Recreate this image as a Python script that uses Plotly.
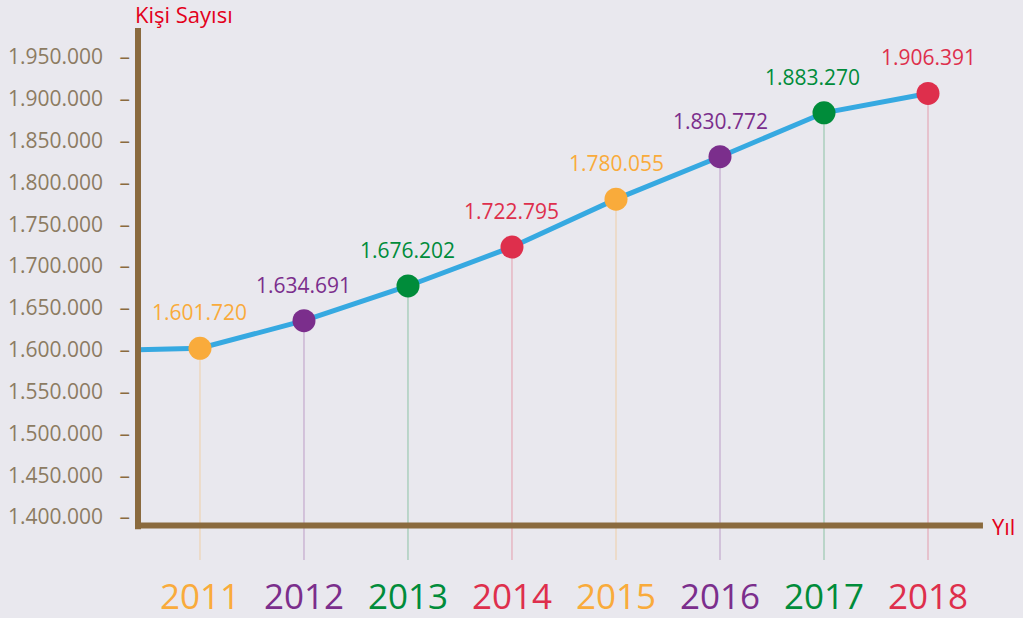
import plotly.graph_objects as go

# ---- data ----
years = [2011, 2012, 2013, 2014, 2015, 2016, 2017, 2018]
values = [1601720, 1634691, 1676202, 1722795, 1780055, 1830772, 1883270, 1906391]
lead_in_value = 1600000
point_colors = ["#f9ab3b", "#7b2e8c", "#008c3a", "#de2f4c",
                "#f9ab3b", "#7b2e8c", "#008c3a", "#de2f4c"]
drop_colors = ["rgba(249,171,59,0.4)", "rgba(123,46,140,0.4)", "rgba(0,140,58,0.4)",
               "rgba(222,47,76,0.4)", "rgba(249,171,59,0.4)", "rgba(123,46,140,0.4)",
               "rgba(0,140,58,0.4)", "rgba(222,47,76,0.4)"]
y_ticks = [1400000 + 50000 * i for i in range(12)]
y_title = "Kişi Sayısı"
x_title = "Yıl"

def fmt(v):
    return f"{v:,}".replace(",", ".")

X_RANGE = [2010.404, 2018.548]
Y_RANGE = [1348589, 1984672]

FONT = "Open Sans"
AXIS_COL = "#8a6a3e"
TICK_COL = "#8c7b62"
BG = "#e9e8ee"

fig = go.Figure()

# drop lines
for yr, v, c in zip(years, values, drop_colors):
    fig.add_trace(go.Scatter(x=[yr, yr], y=[v, Y_RANGE[0]], mode="lines",
                             line=dict(color=c, width=1), hoverinfo="skip",
                             showlegend=False))

# main line
fig.add_trace(go.Scatter(x=[X_RANGE[0]] + years, y=[lead_in_value] + values,
                         mode="lines", line=dict(color="#36a9e1", width=5),
                         showlegend=False, hoverinfo="skip"))
# markers
fig.add_trace(go.Scatter(x=years, y=values, mode="markers",
                         marker=dict(size=23, color=point_colors, line=dict(width=0)),
                         showlegend=False))

annotations = []
label_xshift = [0, 0, 0, 0, 0, 0, -12, 0]
for yr, v, c, xs in zip(years, values, point_colors, label_xshift):
    annotations.append(dict(x=yr, y=v, xref="x", yref="y", text=fmt(v),
                            showarrow=False, yshift=36, xshift=xs,
                            font=dict(family=FONT, size=21, color=c)))
    annotations.append(dict(x=yr, y=0, xref="x", yref="paper", text=str(yr),
                            showarrow=False, yanchor="middle", yshift=-35,
                            font=dict(family=FONT, size=35, color=c)))

annotations.append(dict(x=-0.006, y=1.0, xref="paper", yref="paper", text=y_title,
                        showarrow=False, xanchor="left", yanchor="middle", yshift=14,
                        font=dict(family=FONT, size=22, color="#e3001b")))
annotations.append(dict(x=1.0, y=0.0648, xref="paper", yref="paper", text=x_title,
                        showarrow=False, xanchor="left", yanchor="middle", xshift=5,
                        font=dict(family=FONT, size=22, color="#e3001b")))

shapes = [
    # y axis
    dict(type="line", xref="paper", yref="paper", x0=0, x1=0, y0=0.058, y1=1.0,
         line=dict(color=AXIS_COL, width=6)),
    # x axis
    dict(type="line", xref="paper", yref="paper", x0=-0.0035, x1=0.9976, y0=0.0648, y1=0.0648,
         line=dict(color=AXIS_COL, width=6)),
]

tick_text = [fmt(t) + "\u00a0\u00a0\u00a0" + f"<span style='color:{AXIS_COL}'>–</span>" for t in y_ticks]

fig.update_layout(
    width=1023, height=618,
    margin=dict(l=138, r=38, t=28, b=58),
    paper_bgcolor=BG, plot_bgcolor=BG,
    xaxis=dict(range=X_RANGE, showgrid=False, zeroline=False, showline=False,
               showticklabels=False, ticks="", automargin=False),
    yaxis=dict(range=Y_RANGE, showgrid=False, zeroline=False, showline=False,
               tickvals=y_ticks, ticktext=tick_text, ticks="", ticklabelstandoff=7,
               automargin=False,
               tickfont=dict(family=FONT, size=21, color=TICK_COL)),
    annotations=annotations, shapes=shapes,
    showlegend=False,
)

fig.write_html("out.html")
